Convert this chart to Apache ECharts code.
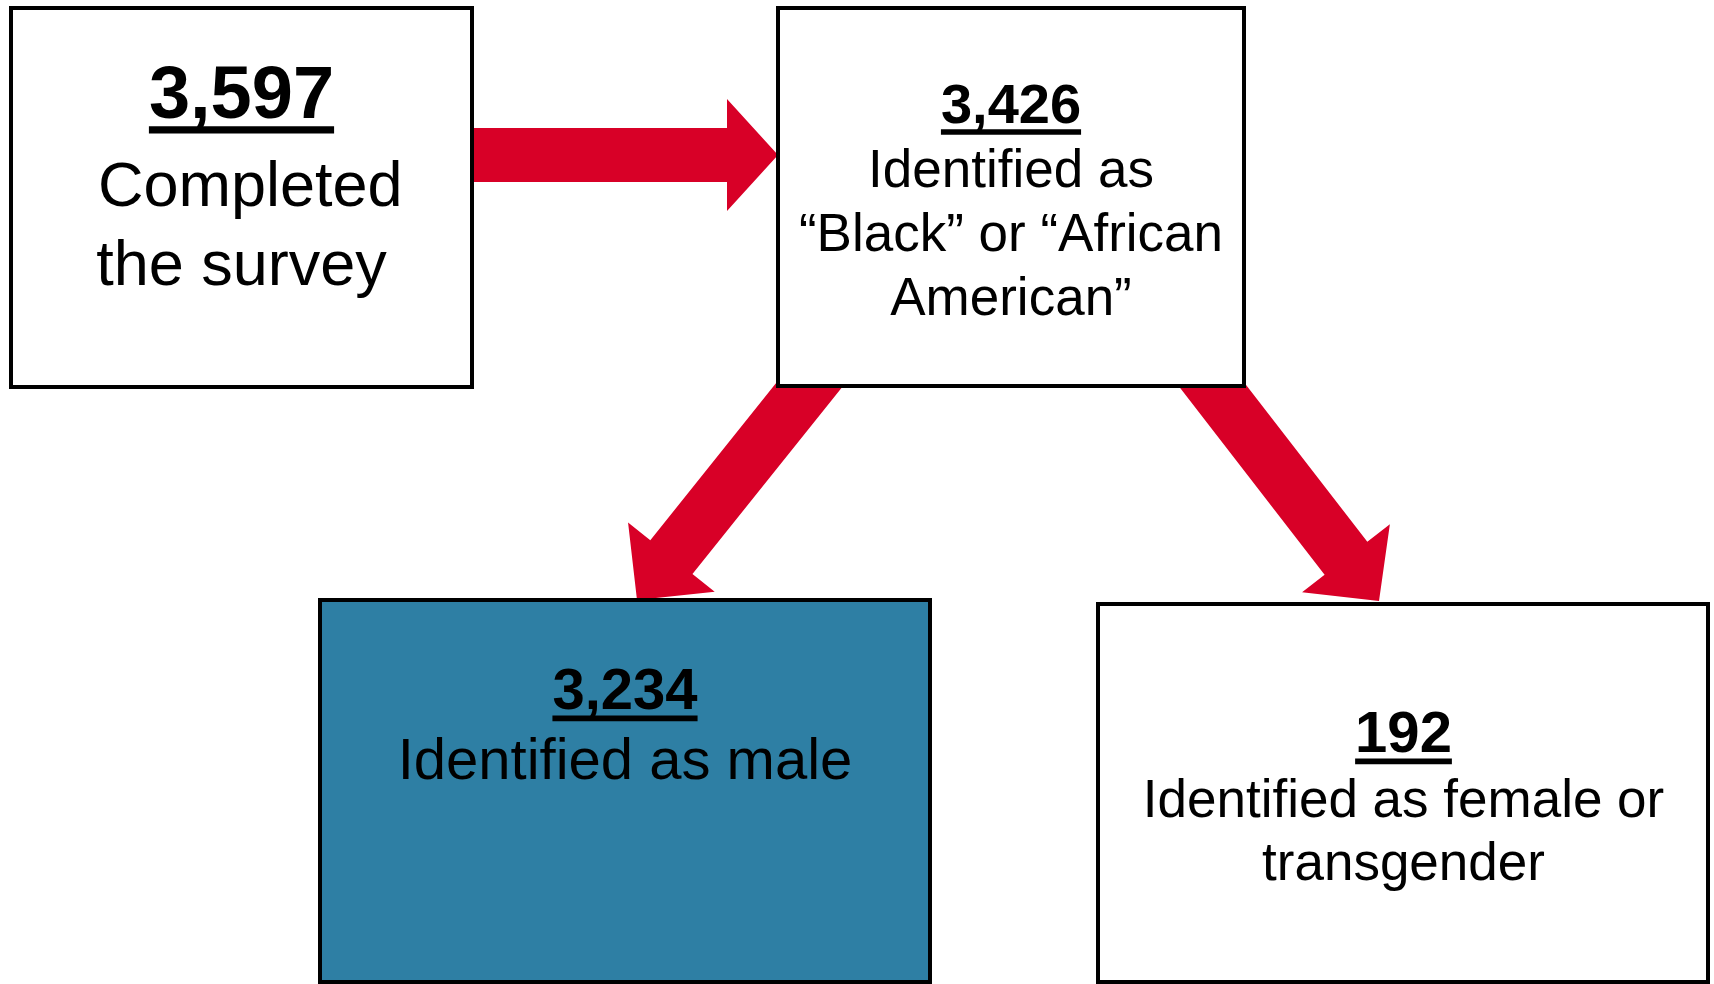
<!DOCTYPE html>
<html>
<head>
<meta charset="utf-8">
<title>Survey flow</title>
<script src="https://cdn.jsdelivr.net/npm/echarts@6/dist/echarts.min.js"></script>
<style>
  html, body { margin: 0; padding: 0; background: #fff; }
  #chart { width: 1714px; height: 984px; }
</style>
</head>
<body>
<div id="chart"></div>
<script>
// values of the flow
const counts = [3597, 3426, 3234, 192];
const descriptions = [
  [' Completed', 'the survey'],
  ['Identified as', '“Black” or “African', 'American”'],
  ['Identified as male'],
  ['Identified as female or', 'transgender']
];
const links = [[0, 1], [1, 2], [1, 3]];

// layout (pixels on a hidden 1714 x 984 axis pair)
const FONT = "'Liberation Sans', Arial, Helvetica, sans-serif";
const RED = '#D80027';
const MID = 0.27; // baseline -> middle of the em box
const boxLayout = [
  { rect: [11, 8, 472, 387], fill: '#ffffff', cx: 241.5, num: { size: 74, base: 118 }, text: { size: 63, base: 206, step: 79 } },
  { rect: [778, 8, 1244, 386], fill: '#ffffff', cx: 1011, num: { size: 56, base: 123 }, text: { size: 53, base: 187, step: 64 } },
  { rect: [320, 600, 930, 982], fill: '#2E7FA4', cx: 625, num: { size: 58, base: 709 }, text: { size: 58, base: 779, step: 64 } },
  { rect: [1098, 604, 1708, 982], fill: '#ffffff', cx: 1403.5, num: { size: 58, base: 752 }, text: { size: 53, base: 817, step: 63 } }
];
const arrowLayout = [
  { from: [440, 155], to: [778, 155], shaft: 54, head: 112, headLen: 51 },
  { from: [834, 354], to: [637, 600], shaft: 54, head: 111, headLen: 55 },
  { from: [1188, 354], to: [1379, 601], shaft: 54, head: 111, headLen: 54 }
];

const measureCtx = document.createElement('canvas').getContext('2d');
function textWidth(str, font) {
  measureCtx.font = font;
  return measureCtx.measureText(str).width;
}

function renderBox(params, api) {
  const i = api.value(0);
  const lay = boxLayout[i];
  const p0 = api.coord([lay.rect[0], lay.rect[1]]);
  const p1 = api.coord([lay.rect[2], lay.rect[3]]);
  const c = api.coord([lay.cx, lay.num.base]);
  const children = [];
  children.push({
    type: 'rect',
    shape: { x: p0[0], y: p0[1], width: p1[0] - p0[0], height: p1[1] - p0[1] },
    style: { fill: lay.fill, stroke: '#000', lineWidth: 4 }
  });
  const numStr = counts[i].toLocaleString('en-US');
  const numFont = 'bold ' + lay.num.size + 'px ' + FONT;
  children.push({
    type: 'text',
    style: {
      text: numStr, x: c[0], y: c[1] - lay.num.size * MID,
      font: numFont, fill: '#000', align: 'center', verticalAlign: 'middle'
    }
  });
  const w = textWidth(numStr, numFont);
  children.push({
    type: 'rect',
    shape: { x: c[0] - w / 2, y: c[1] + lay.num.size * 0.11, width: w, height: lay.num.size * 0.1 },
    style: { fill: '#000' }
  });
  descriptions[i].forEach(function (line, k) {
    const pt = api.coord([lay.cx, lay.text.base + k * lay.text.step]);
    children.push({
      type: 'text',
      style: {
        text: line, x: pt[0], y: pt[1] - lay.text.size * MID,
        font: lay.text.size + 'px ' + FONT, fill: '#000', align: 'center', verticalAlign: 'middle'
      }
    });
  });
  return { type: 'group', children: children };
}

function renderArrow(params, api) {
  const lay = arrowLayout[api.value(0)];
  const P = api.coord(lay.from);
  const T = api.coord(lay.to);
  const dx = T[0] - P[0], dy = T[1] - P[1];
  const len = Math.sqrt(dx * dx + dy * dy);
  const u = [dx / len, dy / len];
  const n = [-u[1], u[0]];
  const s = lay.shaft / 2, h = lay.head / 2;
  const B = [T[0] - u[0] * lay.headLen, T[1] - u[1] * lay.headLen];
  const pts = [
    [P[0] + n[0] * s, P[1] + n[1] * s],
    [B[0] + n[0] * s, B[1] + n[1] * s],
    [B[0] + n[0] * h, B[1] + n[1] * h],
    T,
    [B[0] - n[0] * h, B[1] - n[1] * h],
    [B[0] - n[0] * s, B[1] - n[1] * s],
    [P[0] - n[0] * s, P[1] - n[1] * s]
  ];
  return { type: 'polygon', shape: { points: pts }, style: { fill: RED } };
}

const chart = echarts.init(document.getElementById('chart'));
chart.setOption({
  backgroundColor: '#ffffff',
  animation: false,
  grid: { left: 0, right: 0, top: 0, bottom: 0 },
  xAxis: { type: 'value', min: 0, max: 1714, show: false },
  yAxis: { type: 'value', min: 0, max: 984, inverse: true, show: false },
  series: [
    {
      type: 'custom',
      name: 'links',
      z: 1,
      silent: true,
      renderItem: renderArrow,
      data: links.map(function (l, k) { return [k, l[0], l[1]]; })
    },
    {
      type: 'custom',
      name: 'nodes',
      z: 2,
      silent: true,
      renderItem: renderBox,
      data: counts.map(function (v, i) { return [i, v]; })
    }
  ]
});
</script>
</body>
</html>
